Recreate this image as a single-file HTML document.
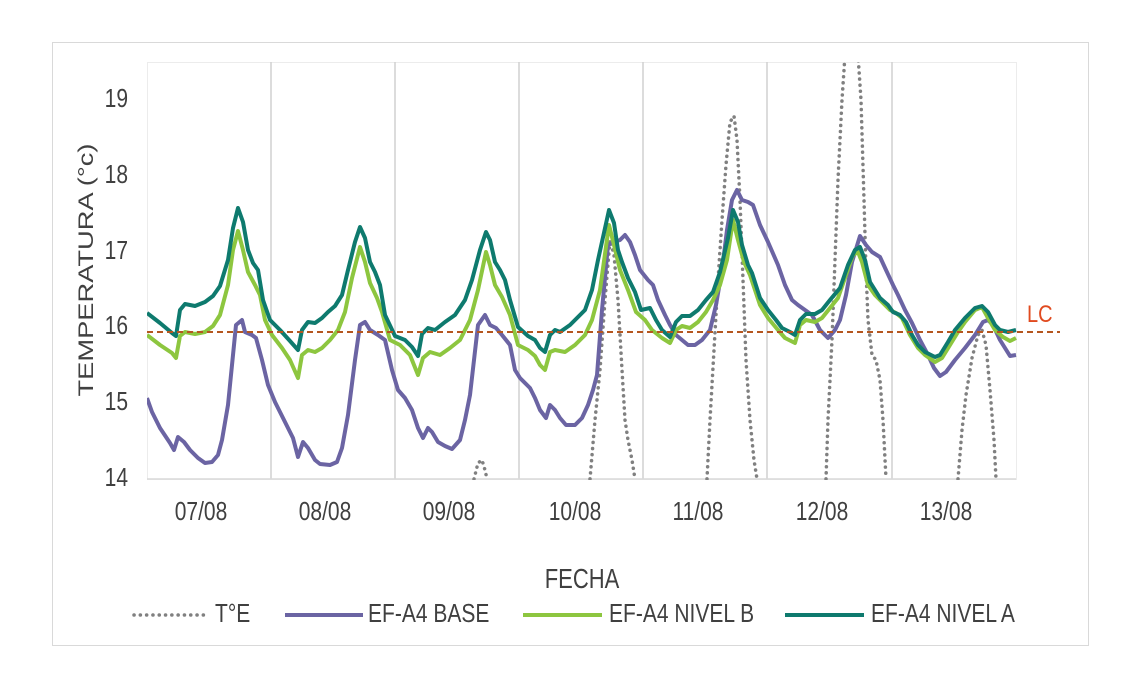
<!DOCTYPE html>
<html><head><meta charset="utf-8"><style>
body{margin:0;background:#fff;}
svg{display:block;font-family:"Liberation Sans",Arial,sans-serif;}
</style></head><body>
<svg width="1140" height="689" viewBox="0 0 1140 689" xmlns="http://www.w3.org/2000/svg">
<rect x="0" y="0" width="1140" height="689" fill="#fff"/>
<rect x="52.5" y="42.5" width="1036" height="603" fill="#fff" stroke="#d9d9d9" stroke-width="1"/>
<rect x="147.5" y="62.5" width="869" height="417" fill="none" stroke="#ececec" stroke-width="1"/>
<g stroke="#d0d0d0" stroke-width="1.5">
<line x1="271" y1="62" x2="271" y2="479"/><line x1="395" y1="62" x2="395" y2="479"/>
<line x1="519" y1="62" x2="519" y2="479"/><line x1="643" y1="62" x2="643" y2="479"/>
<line x1="767" y1="62" x2="767" y2="479"/><line x1="892" y1="62" x2="892" y2="479"/>
</g>
<line x1="147" y1="479" x2="1016" y2="479" stroke="#d9d9d9" stroke-width="1.5"/>
<g font-size="21" fill="#404040" text-anchor="end">
<text transform="translate(128,107) scale(1,1.25)">19</text>
<text transform="translate(128,183) scale(1,1.25)">18</text>
<text transform="translate(128,259) scale(1,1.25)">17</text>
<text transform="translate(128,334) scale(1,1.25)">16</text>
<text transform="translate(128,410) scale(1,1.25)">15</text>
<text transform="translate(128,486) scale(1,1.25)">14</text>
</g>
<text transform="translate(93,270) rotate(-90) scale(1.3,1)" font-size="21" fill="#404040" text-anchor="middle">TEMPERATURA (°c)</text>
<g font-size="21" fill="#404040" text-anchor="middle">
<text transform="translate(201,520) scale(1,1.25)">07/08</text>
<text transform="translate(325,520) scale(1,1.25)">08/08</text>
<text transform="translate(449,520) scale(1,1.25)">09/08</text>
<text transform="translate(575,520) scale(1,1.25)">10/08</text>
<text transform="translate(698,520) scale(1,1.25)">11/08</text>
<text transform="translate(822,520) scale(1,1.25)">12/08</text>
<text transform="translate(946,520) scale(1,1.25)">13/08</text>
<text transform="translate(582,588) scale(1,1.25)" font-size="22">FECHA</text>
</g>
<defs><clipPath id="c"><rect x="147" y="62" width="870" height="418"/></clipPath></defs>
<g clip-path="url(#c)" fill="none" stroke-linejoin="round">
<g stroke="#808080" stroke-width="3.5" stroke-dasharray="0.1 6" stroke-linecap="round">
<polyline points="474,479 478,463 482,460 485,470 487,479"/>
<polyline points="590,479 595,420 600,370 605,300 610,240 614,255 618,300 622,370 625,420 628,440 632,460 635,479"/>
<polyline points="707,479 710,420 714,350 718,280 722,220 726,165 730,122 734,116 737,140 740,200 743,280 746,360 750,420 754,460 757,479"/>
<polyline points="826,479 828,420 832,340 835,260 838,180 842,100 845,55 852,30 858,55 861,100 864,200 866,270 868,320 872,355 876,360 880,380 883,420 886,479"/>
<polyline points="958,479 962,430 966,395 972,358 978,335 982,330 986,345 990,390 994,440 996,479"/>
</g>
<polyline stroke="#6b64a3" stroke-width="4" points="147,398 152,412 160,428 170,443 174,450 178,437 184,442 190,450 198,458 205,463 212,462 218,455 222,440 228,405 233,355 236,325 242,320 245,332 252,335 256,338 262,360 268,385 275,402 285,422 293,438 298,457 303,442 308,448 315,460 320,464 330,465 337,462 342,448 348,415 355,360 360,325 365,322 370,330 378,335 385,340 392,370 398,390 405,398 412,410 418,428 423,438 428,428 432,432 438,442 445,446 452,449 460,440 465,420 470,395 474,360 478,325 485,315 490,325 496,328 502,335 510,345 515,370 520,378 530,388 535,398 540,410 546,418 550,405 555,410 560,418 566,425 575,425 582,418 588,405 593,390 597,375 602,310 608,245 614,242 620,240 625,235 630,242 635,255 640,270 648,280 653,285 658,300 665,315 670,325 676,335 682,340 688,345 695,345 702,340 710,330 716,305 722,270 727,230 732,200 737,190 742,200 748,202 753,205 760,225 768,242 778,265 785,285 792,300 798,305 805,310 812,315 820,330 828,338 835,330 840,320 846,295 852,262 860,236 866,245 872,252 880,257 886,270 893,285 898,295 905,310 912,323 920,340 928,355 934,368 940,376 946,372 955,360 965,348 975,335 983,322 988,320 993,325 1000,340 1010,356 1016,355"/>
<polyline stroke="#8dc63f" stroke-width="4" points="147,335 160,345 172,353 176,358 180,336 185,332 195,334 205,332 213,326 220,315 228,285 233,250 238,231 243,250 248,272 255,285 260,295 265,320 272,335 282,348 290,360 298,378 302,355 308,350 315,352 322,348 330,340 338,330 345,312 352,278 360,247 365,262 370,283 377,298 382,312 390,340 400,345 410,355 418,375 423,358 430,352 440,355 450,348 460,340 470,320 478,290 486,252 490,265 495,285 502,297 510,315 518,345 528,350 535,356 540,365 545,370 550,352 555,350 565,352 575,345 585,335 592,320 600,290 609,225 614,245 620,270 628,290 636,312 645,320 652,330 662,338 670,343 676,330 682,326 690,328 698,322 706,312 713,300 720,285 727,260 733,220 738,240 744,262 750,275 760,305 768,318 778,330 785,338 795,343 800,325 806,320 815,322 822,318 830,308 838,298 846,275 853,255 858,252 862,262 868,285 875,295 882,302 890,310 896,313 902,318 910,335 918,348 925,355 935,362 942,358 950,345 958,332 965,322 975,310 982,307 988,318 995,330 1003,337 1010,341 1016,338"/>
<polyline stroke="#0e7a6e" stroke-width="4" points="147,313 160,323 172,333 176,336 180,310 185,304 195,306 205,302 213,296 220,286 228,260 233,228 238,208 243,222 248,250 253,263 258,270 263,300 270,320 280,330 290,341 298,350 302,330 308,322 315,323 322,318 328,312 335,306 342,295 348,270 355,242 360,227 365,238 370,262 375,272 380,285 385,315 395,336 405,340 412,347 418,356 422,334 428,328 435,330 445,322 455,315 465,300 472,280 480,250 486,232 490,240 495,262 500,270 505,280 510,300 518,327 528,336 535,340 540,348 545,352 550,335 555,330 560,332 570,325 578,317 585,310 592,290 598,260 609,210 614,223 618,250 622,262 628,278 635,292 641,310 650,308 656,320 662,330 670,337 676,322 682,316 690,316 698,310 706,300 713,292 720,272 728,238 733,210 738,222 742,245 748,265 752,273 760,298 768,310 776,320 782,328 790,332 795,335 800,320 806,314 815,314 822,310 830,300 840,288 848,265 855,250 860,247 865,260 870,282 875,290 880,298 888,305 893,312 900,315 906,322 912,335 918,345 925,352 935,357 940,355 948,342 955,330 965,318 975,308 982,306 988,312 995,325 1000,330 1008,332 1016,330"/>
</g>
<line x1="147" y1="332" x2="1060" y2="332" stroke="#b5561f" stroke-width="2" stroke-dasharray="6 4"/>
<text transform="translate(1027,322) scale(1,1.2)" font-size="20" fill="#e04a1f">LC</text>
<g font-size="21" fill="#404040">
<line x1="134" y1="615" x2="208" y2="615" stroke="#808080" stroke-width="3.5" stroke-dasharray="0.1 6.2" stroke-linecap="round"/>
<text transform="translate(215,622) scale(1,1.25)">T°E</text>
<line x1="285" y1="615" x2="363" y2="615" stroke="#6b64a3" stroke-width="4"/>
<text transform="translate(368,622) scale(1,1.25)">EF-A4 BASE</text>
<line x1="523" y1="615" x2="602" y2="615" stroke="#8dc63f" stroke-width="4"/>
<text transform="translate(609,622) scale(1,1.25)">EF-A4 NIVEL B</text>
<line x1="785" y1="615" x2="864" y2="615" stroke="#0e7a6e" stroke-width="4"/>
<text transform="translate(871,622) scale(1,1.25)">EF-A4 NIVEL A</text>
</g>
</svg>
</body></html>
